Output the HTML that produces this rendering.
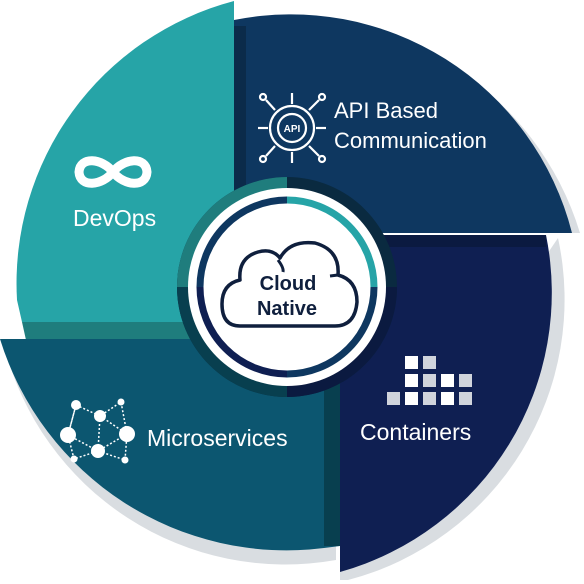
<!DOCTYPE html>
<html><head><meta charset="utf-8"><style>
html,body{margin:0;padding:0;background:#fff;}
svg{display:block;}
text{font-family:"Liberation Sans",sans-serif;}
</style></head><body>
<svg width="584" height="584" viewBox="0 0 584 584" xmlns="http://www.w3.org/2000/svg">
<path d="M246,24 A300,300 0 0 1 580,233 L560,233 Z" fill="#d9dde1"/>
<path d="M558,238 A290,290 0 0 1 348,580 L340,580 L340,560 Z" fill="#d9dde1"/>
<path d="M4,345 A290,290 0 0 0 336,560 L336,540 Z" fill="#d9dde1"/>
<path d="M234,1 A292,292 0 0 0 17,300 L22,322 L234,322 Z" fill="#26a4a7"/>
<path d="M22,322 L200,322 L200,340 L26,340 Z" fill="#1f7d7d"/>
<path d="M234,20 A290,290 0 0 1 572,233 L234,233 Z" fill="#0e3760"/>
<rect x="234" y="26" width="12" height="207" fill="#0b2b4a"/>
<path d="M340,235 L546,235 A290,290 0 0 1 340,572 Z" fill="#0f1f52"/>
<rect x="380" y="235" width="166" height="12" fill="#0b1a40"/>
<path d="M0,339 L340,339 L340,546 L324,548 A300,300 0 0 1 0,339 Z" fill="#0c5670"/>
<rect x="324" y="380" width="16" height="166" fill="#083f4f"/>
<circle cx="287" cy="287" r="110" fill="#0a2a40"/>
<path d="M287,287 L287,177 A110,110 0 0 0 177,287 Z" fill="#1f7d7d"/>
<path d="M287,287 L177,287 A110,110 0 0 0 287,397 Z" fill="#083f4f"/>
<path d="M287,287 L397,287 A110,110 0 0 1 287,397 Z" fill="#0b1a40"/>
<circle cx="287" cy="287" r="99" fill="#fff"/>
<circle cx="287" cy="287" r="88" fill="none" stroke="#e3e6ea" stroke-width="2"/>
<path d="M287,200 A87,87 0 0 0 200,287" fill="none" stroke="#0e3760" stroke-width="7"/>
<path d="M287,200 A87,87 0 0 1 374,287" fill="none" stroke="#26a4a7" stroke-width="7"/>
<path d="M374,287 A87,87 0 0 1 287,374" fill="none" stroke="#0e3760" stroke-width="7"/>
<path d="M287,374 A87,87 0 0 1 200,287" fill="none" stroke="#0f1f52" stroke-width="7"/>
<path d="M240,326 Q222,326 222,304 Q222,284 240,280 Q238,258 258,252 Q272,248 280,258 Q290,240 315,243 Q340,250 338,275 Q357,280 357,302 Q355,326 335,326 Z" fill="#fff" stroke="#0f1f3d" stroke-width="3.5" stroke-linejoin="round"/>
<path d="M278,260 Q284,268 283,272" fill="none" stroke="#0f1f3d" stroke-width="3"/>
<path d="M330,276 L338,275" fill="none" stroke="#0f1f3d" stroke-width="3"/>
<text x="288" y="290" font-size="20" font-weight="bold" fill="#0f1f3d" text-anchor="middle">Cloud</text>
<text x="287" y="315" font-size="20" font-weight="bold" fill="#0f1f3d" text-anchor="middle">Native</text>
<g fill="none" stroke="#fff" stroke-width="9">
<path d="M113,172 C102,158 80,156 79,172 C80,188 102,186 113,172 C124,158 146,156 147,172 C146,188 124,186 113,172"/>
</g>
<text x="73" y="226" font-size="23" fill="#fff">DevOps</text>
<g fill="none" stroke="#fff" stroke-width="2.2">
<circle cx="292" cy="128" r="22"/>
<circle cx="292" cy="128" r="14"/>
<line x1="292" y1="93" x2="292" y2="104"/><line x1="292" y1="152" x2="292" y2="163"/>
<line x1="258" y1="128" x2="268" y2="128"/><line x1="316" y1="128" x2="326" y2="128"/>
<circle cx="263" cy="97" r="3"/><circle cx="322" cy="97" r="3"/><circle cx="263" cy="159" r="3"/><circle cx="322" cy="159" r="3"/>
<line x1="266" y1="100" x2="275" y2="110"/><line x1="319" y1="100" x2="309" y2="110"/>
<line x1="266" y1="156" x2="275" y2="146"/><line x1="319" y1="156" x2="309" y2="146"/>
</g>
<text x="292" y="132" font-size="10" font-weight="bold" fill="#fff" text-anchor="middle">API</text>
<text x="334" y="118" font-size="22" fill="#fff">API Based</text>
<text x="334" y="148" font-size="22" fill="#fff">Communication</text>
<g>
<rect x="405" y="356" width="13" height="13" fill="#fff"/><rect x="423" y="356" width="13" height="13" fill="#d0d4dc"/>
<rect x="405" y="374" width="13" height="13" fill="#fff"/><rect x="423" y="374" width="13" height="13" fill="#d0d4dc"/><rect x="441" y="374" width="13" height="13" fill="#fff"/><rect x="459" y="374" width="13" height="13" fill="#d0d4dc"/>
<rect x="387" y="392" width="13" height="13" fill="#d0d4dc"/><rect x="405" y="392" width="13" height="13" fill="#fff"/><rect x="423" y="392" width="13" height="13" fill="#d0d4dc"/><rect x="441" y="392" width="13" height="13" fill="#fff"/><rect x="459" y="392" width="13" height="13" fill="#d0d4dc"/>
</g>
<text x="360" y="440" font-size="23" fill="#fff">Containers</text>
<g stroke="#fff" stroke-width="1.5" stroke-dasharray="2,2" fill="none">
<path d="M76,405 L100,416 L121,402 L127,434 L125,460 L98,451 L74,459 L68,435 L76,405 M100,416 L98,451 M76,405 L68,435 M100,416 L127,434 M68,435 L98,451 L127,434"/>
</g>
<g fill="#fff">
<circle cx="76" cy="405" r="5"/><circle cx="100" cy="416" r="6"/><circle cx="121" cy="402" r="3.5"/>
<circle cx="68" cy="435" r="8"/><circle cx="127" cy="434" r="8"/><circle cx="98" cy="451" r="7"/>
<circle cx="74" cy="459" r="3.5"/><circle cx="125" cy="460" r="3.5"/>
</g>
<text x="147" y="446" font-size="23" fill="#fff">Microservices</text>
</svg>
</body></html>
